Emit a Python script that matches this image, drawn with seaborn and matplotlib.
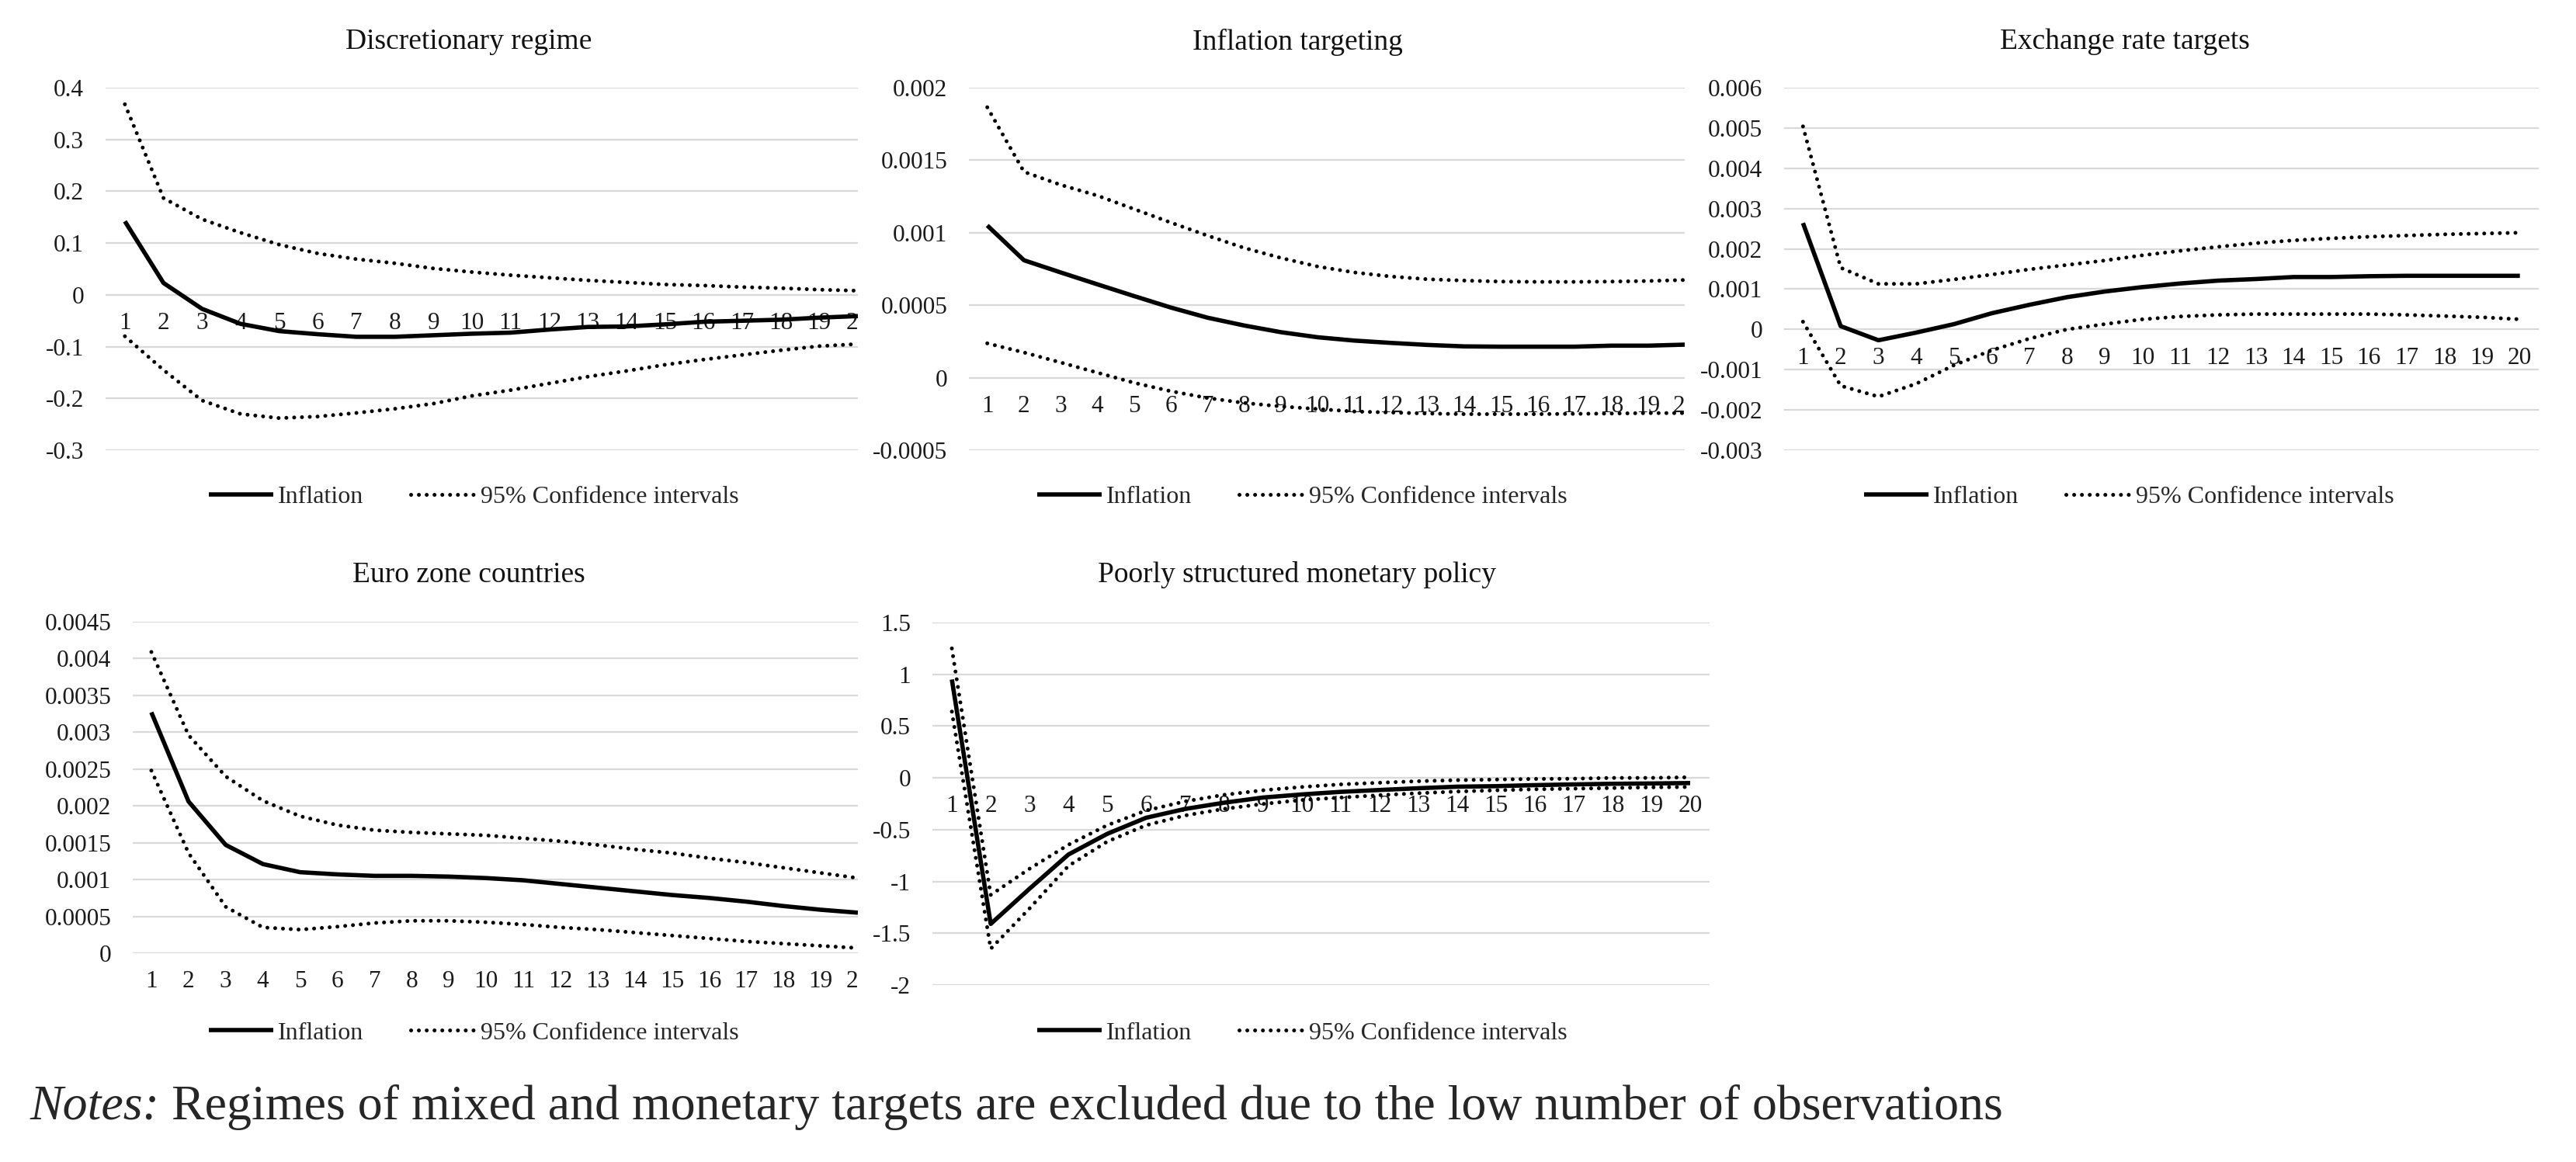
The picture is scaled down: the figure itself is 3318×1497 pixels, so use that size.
import numpy as np
import pandas as pd
import matplotlib.pyplot as plt
from matplotlib.ticker import MultipleLocator, FuncFormatter
from matplotlib.transforms import Bbox, TransformedBbox
import seaborn as sns

# impulse responses of inflation
periods = list(range(1, 21))

disc_infl = [0.142, 0.023, -0.027, -0.056, -0.070, -0.076, -0.081, -0.081, -0.078, -0.075,
             -0.073, -0.067, -0.062, -0.061, -0.057, -0.052, -0.050, -0.048, -0.044, -0.041]
disc_up = [0.368, 0.187, 0.146, 0.120, 0.097, 0.080, 0.069, 0.061, 0.051, 0.044,
           0.038, 0.033, 0.028, 0.024, 0.020, 0.018, 0.015, 0.013, 0.010, 0.008]
disc_lo = [-0.080, -0.145, -0.204, -0.230, -0.238, -0.235, -0.228, -0.220, -0.210, -0.195,
           -0.184, -0.171, -0.158, -0.147, -0.135, -0.125, -0.116, -0.107, -0.099, -0.095]

it_infl = [0.00105, 0.00081, 0.000726, 0.000644, 0.000563, 0.000484, 0.000414, 0.00036, 0.000314, 0.000279,
           0.000256, 0.00024, 0.000226, 0.000216, 0.000214, 0.000214, 0.000214, 0.000221, 0.000221, 0.000228]
it_up = [0.001865, 0.00142, 0.00133, 0.001256, 0.001163, 0.00107, 0.00098, 0.000895, 0.000826, 0.000767,
         0.000726, 0.000698, 0.000679, 0.00067, 0.000663, 0.000661, 0.000661, 0.000663, 0.000667, 0.000674]
it_lo = [0.000237, 0.000174, 0.000105, 0.000035, -0.000035, -0.000093, -0.00014, -0.000174, -0.000198, -0.000216,
         -0.000233, -0.00024, -0.000247, -0.000251, -0.000251, -0.000251, -0.000249, -0.000247, -0.000244, -0.000244]

er_infl = [0.00264, 0.00008, -0.00027, -0.00008, 0.00013, 0.0004, 0.00061, 0.0008, 0.00094, 0.00105,
           0.00114, 0.00121, 0.00125, 0.0013, 0.0013, 0.00132, 0.00133, 0.00133, 0.00133, 0.00133]
er_up = [0.00504, 0.00153, 0.00113, 0.00113, 0.00124, 0.00136, 0.00149, 0.0016, 0.00171, 0.00184,
         0.00195, 0.00205, 0.00214, 0.00221, 0.00226, 0.0023, 0.00233, 0.00236, 0.00238, 0.0024]
er_lo = [0.00019, -0.0014, -0.00167, -0.00135, -0.00089, -0.00052, -0.00023, 0.0, 0.00013, 0.00025,
         0.00032, 0.00036, 0.00038, 0.00038, 0.00038, 0.00038, 0.00036, 0.00033, 0.0003, 0.00025]

ez_infl = [0.00327, 0.00206, 0.00147, 0.00121, 0.0011, 0.00107, 0.00105, 0.00105, 0.00104, 0.00102,
           0.00099, 0.00094, 0.00089, 0.00084, 0.00079, 0.00075, 0.0007, 0.00064, 0.00059, 0.00055]
ez_up = [0.00409, 0.00296, 0.0024, 0.00207, 0.00186, 0.00174, 0.00167, 0.00164, 0.00162, 0.0016,
         0.00156, 0.00152, 0.00147, 0.00141, 0.00136, 0.00129, 0.00123, 0.00116, 0.00109, 0.00102]
ez_lo = [0.00248, 0.00136, 0.00063, 0.00035, 0.00032, 0.00036, 0.00041, 0.00044, 0.00044, 0.00042,
         0.00039, 0.00035, 0.00032, 0.00028, 0.00024, 0.0002, 0.00016, 0.00013, 0.0001, 0.00007]

ps_infl = [0.95, -1.41, -1.07, -0.74, -0.54, -0.385, -0.30, -0.24, -0.19, -0.16,
           -0.135, -0.117, -0.10, -0.085, -0.08, -0.07, -0.063, -0.057, -0.054, -0.05]
ps_up = [1.25, -1.13, -0.877, -0.646, -0.457, -0.315, -0.227, -0.164, -0.12, -0.088,
         -0.063, -0.047, -0.032, -0.022, -0.016, -0.01, -0.008, 0.0, 0.0, 0.006]
ps_lo = [0.64, -1.65, -1.26, -0.85, -0.615, -0.457, -0.363, -0.30, -0.252, -0.214,
         -0.19, -0.167, -0.148, -0.132, -0.12, -0.11, -0.104, -0.098, -0.091, -0.088]

titles = ["Discretionary regime", "Inflation targeting", "Exchange rate targets",
          "Euro zone countries", "Poorly structured monetary policy"]
series = [(disc_infl, disc_up, disc_lo), (it_infl, it_up, it_lo), (er_infl, er_up, er_lo),
          (ez_infl, ez_up, ez_lo), (ps_infl, ps_up, ps_lo)]
ylims = [(-0.3, 0.4), (-0.0005, 0.002), (-0.003, 0.006), (0, 0.0045), (-2, 1.5)]
ysteps = [0.1, 0.0005, 0.001, 0.0005, 0.5]
legend_labels = ["Inflation", "95% Confidence intervals"]
note = "Regimes of mixed and monetary targets are excluded due to the low number of observations"

sns.set_theme(style="white")
plt.rcParams["font.family"] = ["Liberation Serif", "DejaVu Serif"]

W, H = 3318, 1497
fig = plt.figure(figsize=(W / 100, H / 100), dpi=100)

# pixel boxes: left, right, top, bottom, right x-limit (some panels are cut off on the right)
boxes = [(136, 1105, 113, 580, 19.85), (1248, 2170, 113, 580, 19.55), (2298, 3270, 113, 580, 20.5),
         (171, 1105, 801, 1228, 19.85), (1201, 2202, 802, 1269, 20.5)]
title_pos = [(604, 54), (1671, 54), (2737, 54), (604, 741), (1670, 741)]
legend_pos = [(610, 640), (1677, 640), (2742, 640), (610, 1331), (1677, 1331)]
dot = (0, (0.01, 2.0))

for i in range(5):
    l, r, t, b, xr = boxes[i]
    ax = fig.add_axes([l / W, 1 - b / H, (r - l) / W, (b - t) / H])
    infl, up, lo = series[i]
    sns.lineplot(x=periods, y=infl, ax=ax, color="black", lw=4.0, label=legend_labels[0],
                 errorbar=None, solid_joinstyle="round", solid_capstyle="butt")
    sns.lineplot(x=periods, y=up, ax=ax, color="black", lw=3.6, linestyle=dot,
                 dash_capstyle="round", label=legend_labels[1], errorbar=None)
    sns.lineplot(x=periods, y=lo, ax=ax, color="black", lw=3.6, linestyle=dot,
                 dash_capstyle="round", errorbar=None)
    ax.set_xlim(0.5, xr)
    ax.set_ylim(*ylims[i])
    ax.yaxis.set_major_locator(MultipleLocator(ysteps[i]))
    ax.yaxis.set_major_formatter(FuncFormatter(lambda v, p: f"{round(v, 6):g}"))
    ax.set_xticks(periods)
    ax.set_xticklabels([str(p) for p in periods])
    ax.yaxis.grid(True, color="#d9d9d9", lw=1.6)
    ax.xaxis.grid(False)
    for s in ax.spines.values():
        s.set_color("none")
    # category labels sit next to the horizontal axis, which crosses at zero
    ax.spines["bottom"].set_position(("data", 0))
    ax.tick_params(axis="y", length=0, pad=20, labelsize=22.5, labelcolor="#1a1a1a")
    ax.tick_params(axis="x", length=0, pad=16, labelsize=22.5, labelcolor="#1a1a1a")
    clip = TransformedBbox(Bbox.from_extents(0, -1, 1, 2), ax.transAxes)
    for lab in ax.get_xticklabels():
        lab.set_clip_box(clip)
        lab.set_clip_on(True)
    ax.set_xlabel("")
    ax.set_ylabel("")
    ax.set_facecolor("none")
    handles = ax.get_lines()[:2]
    ax.legend(handles, legend_labels, loc="center",
              bbox_to_anchor=(legend_pos[i][0] / W, 1 - legend_pos[i][1] / H),
              bbox_transform=fig.transFigure, ncol=2, frameon=False, fontsize=23,
              handlelength=2.6, handletextpad=0.2, columnspacing=1.9)
    fig.text(title_pos[i][0] / W, 1 - title_pos[i][1] / H, titles[i], ha="center", va="center",
             fontsize=27, color="#111111")

t1 = fig.text(38 / W, 1 - 1456 / H, "Notes:", fontsize=46, style="italic", va="bottom", ha="left")
fig.add_artist(plt.Annotation(" " + note, xy=(1, 0), xycoords=t1, va="bottom", ha="left",
                              fontsize=46))

fig.savefig("out.png", dpi=100, facecolor="white")
